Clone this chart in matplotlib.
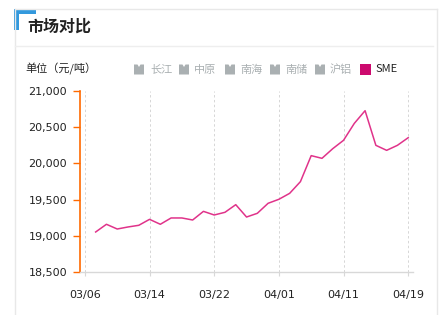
import numpy as np
import matplotlib
matplotlib.use("Agg")
import matplotlib.pyplot as plt
from matplotlib.patches import Polygon, Rectangle
from matplotlib.lines import Line2D

dates = ["03/06", "03/07", "03/09", "03/10", "03/11", "03/13", "03/14", "03/15",
         "03/16", "03/18", "03/20", "03/21", "03/22", "03/23", "03/25", "03/27",
         "03/28", "03/30", "04/01", "04/02", "04/04", "04/06", "04/08", "04/09",
         "04/11", "04/12", "04/13", "04/15", "04/16", "04/18", "04/19"]
sme = [np.nan, 19055, 19161, 19096, 19124, 19147, 19229, 19161, 19248, 19248,
       19220, 19339, 19289, 19326, 19431, 19261, 19312, 19450, 19505, 19587,
       19748, 20106, 20069, 20202, 20317, 20550, 20725, 20248, 20179, 20248, 20353]
tick_labels = ["03/06", "03/14", "03/22", "04/01", "04/11", "04/19"]
yticks = [18500, 19000, 19500, 20000, 20500, 21000]
legend_names = ["长江", "中原", "南海", "南储", "沪铝", "SME"]

W, H = 441, 315
fig = plt.figure(figsize=(W / 100, H / 100), dpi=100)
CJK = ["Noto Sans CJK SC", "DejaVu Sans"]

def fx(x):
    return x / W

def fy(y):
    return 1 - y / H

# frame
gray = "#e8e8e8"
fig.add_artist(Line2D([fx(14.7), fx(437)], [fy(9), fy(9)], color=gray, lw=1))
fig.add_artist(Line2D([fx(14.7), fx(14.7)], [fy(9), fy(315)], color=gray, lw=1))
fig.add_artist(Line2D([fx(437), fx(437)], [fy(9), fy(315)], color=gray, lw=1))
fig.add_artist(Line2D([fx(15), fx(433)], [fy(46.3), fy(46.3)], color="#eeeeee", lw=1))
# blue corner
blue = "#3399dd"
fig.add_artist(Rectangle((fx(14), fy(13.5)), fx(36) - fx(14), fy(9) - fy(13.5), color=blue, lw=0))
fig.add_artist(Rectangle((fx(14), fy(29.5)), fx(19) - fx(14), fy(9) - fy(29.5), color=blue, lw=0))

fig.text(fx(27.5), fy(27), "市场对比", family=CJK, fontsize=11.5, weight="bold",
         color="#222222", ha="left", va="center")
fig.text(fx(25), fy(68.5), "单位（元/吨）", family=CJK, fontsize=8, color="#222222",
         ha="left", va="center")

# legend
icon_x = [134, 179, 225, 270, 315]
text_x = [150, 194, 240, 285, 330, 375]
ly = 69.5
for ix in icon_x:
    s = 10
    x0, y0 = ix, ly - s / 2
    pts = [(x0, y0 + s), (x0 + s, y0 + s), (x0 + s, y0), (x0 + 0.65 * s, y0),
           (x0 + 0.5 * s, y0 + 0.25 * s), (x0 + 0.35 * s, y0), (x0, y0)]
    fig.add_artist(Polygon([(fx(a), fy(b)) for a, b in pts], closed=True,
                           color="#aab0b2", lw=0))
fig.add_artist(Rectangle((fx(360), fy(ly + 5.5)), fx(371) - fx(360), fy(ly - 5.5) - fy(ly + 5.5),
                         color="#cc0a6e", lw=0))
for i, name in enumerate(legend_names):
    c = "#222222" if name == "SME" else "#aab0b2"
    fig.text(fx(text_x[i]), fy(ly), name, family=CJK, fontsize=8, color=c,
             ha="left", va="center")

# axes
left, right, top, bottom = 79.5, 412.5, 90.7, 272.3
ax = fig.add_axes([fx(left), fy(bottom), fx(right) - fx(left), fy(top) - fy(bottom)])
x = np.arange(len(dates))
ax.plot(x, sme, color="#e0338a", lw=1.1, zorder=3)
ax.set_xlim(-0.5, len(dates) - 0.6)
ax.set_ylim(18500, 21000)
ax.set_yticks(yticks)
ax.set_yticklabels([f"{v:,}" for v in yticks])

tick_pos = [dates.index(t) for t in tick_labels]
ax.set_xticks(tick_pos)
ax.set_xticklabels(tick_labels)
for p in tick_pos:
    ax.axvline(p, color="#d6d6d6", lw=0.7, ls=(0, (2.5, 2.5)), zorder=1)

for s in ["top", "right"]:
    ax.spines[s].set_visible(False)
ax.spines["left"].set_color("#ff6a00")
ax.spines["left"].set_linewidth(1.2)
ax.spines["bottom"].set_color("#d8d8d8")
ax.spines["bottom"].set_linewidth(1)
ax.tick_params(axis="y", colors="#ff6a00", length=5, width=1, pad=4, labelsize=8,
               labelcolor="#222222")
ax.tick_params(axis="x", colors="#d8d8d8", length=3, width=0.8, pad=10, labelsize=8,
               labelcolor="#222222")
ax.set_facecolor("none")
for lab in ax.get_xticklabels() + ax.get_yticklabels():
    lab.set_family("DejaVu Sans")

fig.savefig("out.png", dpi=100)
